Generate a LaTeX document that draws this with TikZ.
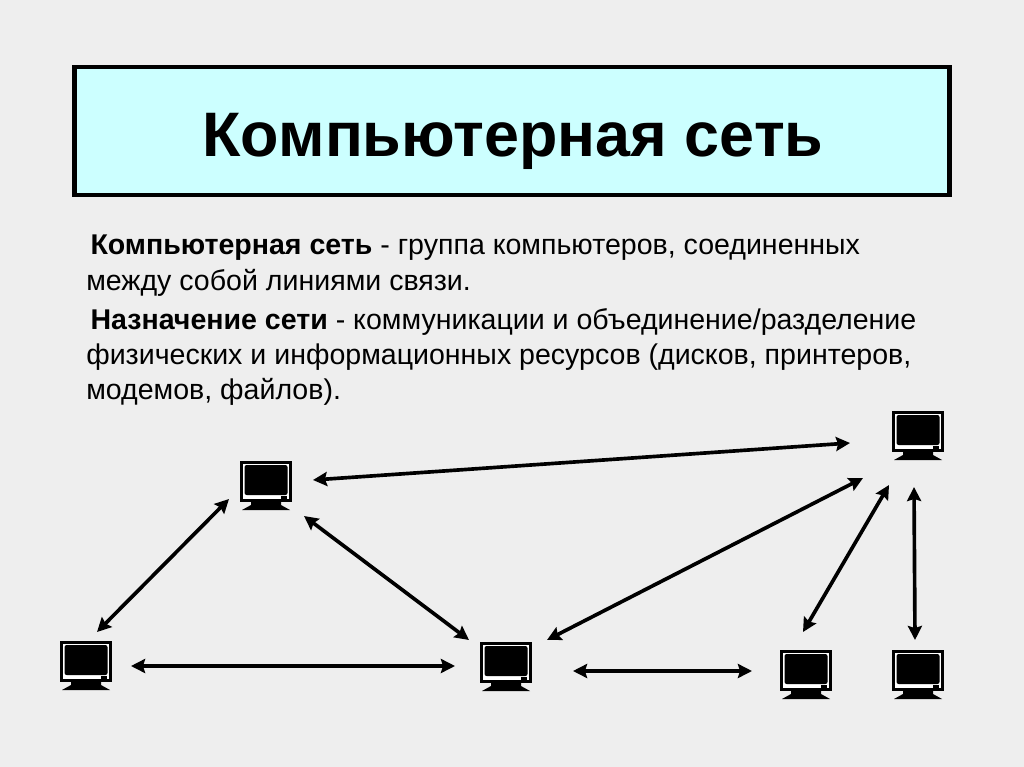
\documentclass[tikz,border=0pt]{standalone}
\usepackage{fontspec}
\setmainfont{Liberation Sans}
\usetikzlibrary{arrows.meta}
\definecolor{slidebg}{HTML}{EEEEEE}
\definecolor{titlefill}{HTML}{CCFFFF}
\tikzset{
	pc/.style={minimum width=1.4cm,minimum height=1.4cm,inner sep=0pt,outer sep=0pt,
		path picture={
			\fill [black] (-26,-24) rectangle (26,17);
			\fill [white] (-23,-21) rectangle (23,14);
			\fill [black,rounded corners=1.5pt] (-21.5,-20) rectangle (21.5,10);
			\fill [black] (15,11) rectangle (21,15);
			\fill [black] (-15,16) -- (15,16) -- (15,20) -- (24,25) -- (-24,25) -- (-15,20) -- cycle;
		}},
	link/.style={draw=black,line width=2.6pt,{Stealth[length=10pt,width=10pt,inset=1.5pt]}-{Stealth[length=10pt,width=10pt,inset=1.5pt]}},
	para/.style={anchor=north west,align=left,inner sep=0pt,font=\fontsize{20.3pt}{25pt}\selectfont}
}
\begin{document}
\begin{tikzpicture}[x=0.025cm,y=-0.025cm]
	\fill [slidebg] (0,0) rectangle (1024,767);
	\useasboundingbox (0,0) rectangle (1024,767);

	\node (title) at (512,131) [draw=black,line width=3.4pt,fill=titlefill,minimum width=21.85cm,minimum height=3.2cm] {};
	\node (titletext) at (513,141) [font=\bfseries\fontsize{44.7pt}{50pt}\selectfont] {Компьютерная сеть};

	\node (para1) at (86,235) [para] {\hspace*{3pt}\textbf{Компьютерная сеть} - группа компьютеров, соединенных\\между собой линиями связи.};
	\node (para2) at (86,308) [para] {\hspace*{3pt}\textbf{Назначение сети} - коммуникации и объединение/разделение\\физических и информационных ресурсов (дисков, принтеров,\\модемов, файлов).};

	\node (A) at (266,485) [pc] {};
	\node (B) at (86,665) [pc] {};
	\node (C) at (506,666) [pc] {};
	\node (D) at (806,674) [pc] {};
	\node (E) at (918,674) [pc] {};
	\node (F) at (918,435) [pc] {};

	\path [link] ([shift={(47,-5)}]A.center) -- ([shift={(-68,8)}]F.center);
	\path [link] ([shift={(-37,14)}]A.center) -- ([shift={(11,-33)}]B.center);
	\path [link] ([shift={(38,31)}]A.center) -- ([shift={(-37,-26)}]C.center);
	\path [link] ([shift={(45,1)}]B.center) -- ([shift={(-51,0)}]C.center);
	\path [link] ([shift={(67,5)}]C.center) -- ([shift={(-54,-3)}]D.center);
	\path [link] ([shift={(41,-26)}]C.center) -- ([shift={(-55,43)}]F.center);
	\path [link] ([shift={(-3,-42)}]D.center) -- ([shift={(-29,50)}]F.center);
	\path [link] ([shift={(-3,-34)}]E.center) -- ([shift={(-4,52)}]F.center);
\end{tikzpicture}
\end{document}
